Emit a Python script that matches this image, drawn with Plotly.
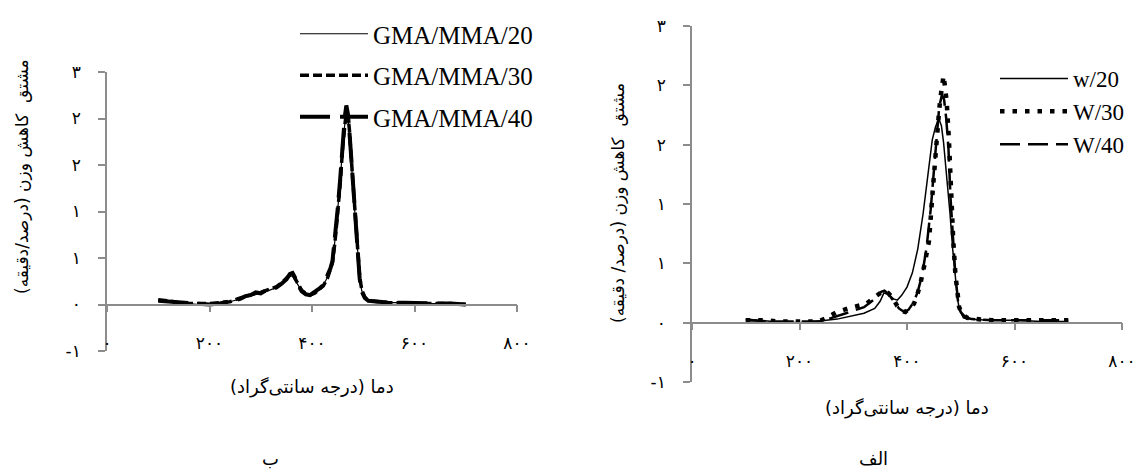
import plotly.graph_objects as go

# ---- Panel "ب": GMA/MMA copolymers, DTG vs temperature ----
t_gma = [100, 120, 140, 160, 180, 200, 220, 240, 260, 270, 280, 290, 300, 310, 320,
         330, 340, 350, 357, 362, 366, 370, 375, 380, 388, 396, 405, 414, 422, 430,
         436, 440, 445, 450, 455, 460, 464, 467, 470, 473, 476, 480, 485, 490, 493,
         497, 503, 510, 525, 550, 580, 610, 640, 670, 700]
gma_20 = [0.04, 0.03, 0.02, 0.01, 0.00, 0.01, 0.01, 0.03, 0.06, 0.08, 0.09, 0.11, 0.12, 0.14, 0.16,
          0.18, 0.22, 0.26, 0.30, 0.31, 0.27, 0.23, 0.19, 0.15, 0.11, 0.10, 0.13, 0.17, 0.21, 0.29,
          0.38, 0.46, 0.70, 1.00, 1.32, 1.72, 1.98, 2.10, 2.02, 1.85, 1.60, 1.26, 0.87, 0.48, 0.29,
          0.15, 0.07, 0.04, 0.03, 0.02, 0.02, 0.01, 0.01, 0.00, 0.00]
gma_30 = [0.05, 0.04, 0.02, 0.01, 0.01, 0.01, 0.02, 0.03, 0.07, 0.09, 0.10, 0.12, 0.13, 0.15, 0.17,
          0.19, 0.23, 0.28, 0.32, 0.33, 0.29, 0.24, 0.19, 0.15, 0.12, 0.10, 0.12, 0.16, 0.20, 0.28,
          0.37, 0.45, 0.68, 0.98, 1.30, 1.70, 1.97, 2.08, 2.04, 1.88, 1.62, 1.28, 0.88, 0.49, 0.30,
          0.16, 0.08, 0.04, 0.03, 0.02, 0.02, 0.01, 0.01, 0.01, 0.00]
gma_40 = [0.04, 0.03, 0.02, 0.01, 0.00, 0.00, 0.01, 0.03, 0.06, 0.09, 0.10, 0.13, 0.12, 0.15, 0.16,
          0.18, 0.22, 0.27, 0.33, 0.34, 0.30, 0.24, 0.19, 0.14, 0.11, 0.10, 0.13, 0.17, 0.21, 0.30,
          0.39, 0.47, 0.72, 1.02, 1.35, 1.75, 2.02, 2.14, 2.05, 1.86, 1.60, 1.25, 0.86, 0.47, 0.28,
          0.14, 0.07, 0.04, 0.03, 0.02, 0.02, 0.01, 0.01, 0.01, 0.00]

# ---- Panel "الف": W series, DTG vs temperature ----
t_w20 = [100, 150, 200, 230, 250, 270, 300, 320, 340, 350, 357, 365, 375, 382, 390,
         400, 410, 420, 430, 440, 447, 453, 459, 464, 468, 472, 476, 480, 485, 490,
         494, 498, 505, 515, 550, 600, 650, 700]
w_20 = [0.03, 0.01, 0.00, 0.01, 0.02, 0.03, 0.06, 0.08, 0.12, 0.18, 0.25, 0.24, 0.20, 0.19, 0.23,
        0.30, 0.42, 0.62, 0.92, 1.28, 1.54, 1.65, 1.72, 1.66, 1.52, 1.32, 1.14, 0.92, 0.62, 0.36,
        0.20, 0.10, 0.04, 0.03, 0.02, 0.02, 0.01, 0.01]

t_w30 = [100, 120, 140, 160, 180, 200, 220, 235, 250, 270, 290, 310, 325, 338, 350,
         357, 365, 373, 382, 390, 397, 405, 413, 420, 425, 433, 441, 448, 453, 457,
         460, 463, 466, 468, 471, 474, 478, 482, 486, 490, 494, 497, 503, 512, 530,
         560, 600, 650, 700]
w_30 = [0.02, 0.02, 0.02, 0.01, 0.01, 0.01, 0.01, 0.01, 0.04, 0.09, 0.12, 0.14, 0.16, 0.21, 0.25,
        0.27, 0.25, 0.21, 0.14, 0.10, 0.09, 0.13, 0.16, 0.25, 0.33, 0.50, 0.69, 1.12, 1.45, 1.69,
        1.80, 1.92, 2.02, 2.08, 1.98, 1.85, 1.54, 1.02, 0.70, 0.41, 0.22, 0.13, 0.07, 0.04, 0.03,
        0.02, 0.02, 0.02, 0.02]

t_w40 = [100, 150, 200, 240, 260, 280, 300, 320, 340, 352, 358, 366, 375, 385, 395,
         403, 412, 420, 428, 436, 444, 450, 455, 460, 465, 469, 473, 477, 481, 486,
         490, 495, 500, 508, 520, 560, 620, 700]
w_40 = [0.02, 0.01, 0.01, 0.01, 0.04, 0.07, 0.10, 0.13, 0.20, 0.26, 0.27, 0.24, 0.18, 0.12, 0.09,
        0.11, 0.17, 0.26, 0.40, 0.62, 0.95, 1.30, 1.60, 1.82, 1.92, 1.88, 1.72, 1.48, 1.05, 0.66,
        0.40, 0.18, 0.09, 0.05, 0.03, 0.02, 0.02, 0.02]

# ---- Axis tick labels (Persian digits) ----
y_tickvals = [-0.5, 0, 0.5, 1, 1.5, 2, 2.5]
y_ticktext = ["-۱", "۰", "۱", "۱", "۲", "۲", "۳"]
x_tickvals = [0, 200, 400, 600, 800]
x_ticktext = ["۰", "۲۰۰", "۴۰۰", "۶۰۰", "۸۰۰"]

y_title_b = "مشتق  کاهش وزن (درصد/دقیقه)"
y_title_a = "مشتق  کاهش وزن (درصد/ دقیقه)"
x_title = "دما (درجه سانتی‌گراد)"

W, H = 1140, 471
Y_RANGE = [-0.5, 2.5]
X_RANGE = [0, 800]
AXIS_GRAY = "#8c8c8c"
FA_FONT = "DejaVu Sans"
LEG_FONT = "Liberation Serif, Times New Roman, serif"


def px_x(p):
    return p / W


def px_y(p):
    return 1 - p / H


def zero_position(domain):
    # paper position of y = 0 inside a y-domain
    return domain[0] + (0 - Y_RANGE[0]) / (Y_RANGE[1] - Y_RANGE[0]) * (domain[1] - domain[0])


dom_x1 = [px_x(107), px_x(517)]
dom_y1 = [px_y(351), px_y(72)]
dom_x2 = [px_x(692), px_x(1122)]
dom_y2 = [px_y(382), px_y(26)]

fig = go.Figure()

black = "#000000"
fig.add_trace(go.Scatter(x=t_gma, y=gma_20, mode="lines", name="GMA/MMA/20",
                         line=dict(color=black, width=1.2), legendgroup="g20",
                         xaxis="x", yaxis="y", legend="legend"))
fig.add_trace(go.Scatter(x=t_gma, y=gma_30, mode="lines", name="GMA/MMA/30",
                         line=dict(color=black, width=3.5, dash="9px,4px"), legendgroup="g30",
                         xaxis="x", yaxis="y", legend="legend"))
fig.add_trace(go.Scatter(x=t_gma, y=gma_40, mode="lines", name="GMA/MMA/40",
                         line=dict(color=black, width=4, dash="30px,10px"), legendgroup="g40",
                         xaxis="x", yaxis="y", legend="legend"))

fig.add_trace(go.Scatter(x=t_w20, y=w_20, mode="lines", name="w/20",
                         line=dict(color=black, width=1.5),
                         xaxis="x2", yaxis="y2", legend="legend2"))
fig.add_trace(go.Scatter(x=t_w30, y=w_30, mode="lines", name="W/30",
                         line=dict(color=black, width=4.5, dash="4.5px,8px"),
                         xaxis="x2", yaxis="y2", legend="legend2"))
fig.add_trace(go.Scatter(x=t_w40, y=w_40, mode="lines", name="W/40",
                         line=dict(color=black, width=2.5, dash="20px,8px"),
                         xaxis="x2", yaxis="y2", legend="legend2"))

common_x = dict(range=X_RANGE, tickvals=x_tickvals, ticktext=x_ticktext,
                showline=True, linecolor=AXIS_GRAY, linewidth=1.5,
                ticks="outside", ticklen=7, tickwidth=1.5, tickcolor=AXIS_GRAY,
                showgrid=False, zeroline=False, ticklabelstandoff=16,
                tickfont=dict(family=FA_FONT, size=17, color=black),
                anchor="free", automargin=False)
common_y = dict(range=Y_RANGE, tickvals=y_tickvals, ticktext=y_ticktext,
                showline=True, linecolor=AXIS_GRAY, linewidth=1.5,
                ticks="outside", ticklen=7, tickwidth=1.5, tickcolor=AXIS_GRAY,
                showgrid=False, zeroline=False, ticklabelstandoff=14,
                tickfont=dict(family=FA_FONT, size=17, color=black),
                automargin=False)


def note(text, x, y, angle=0, size=18):
    return dict(text=text, x=px_x(x), y=px_y(y), xref="paper", yref="paper",
                xanchor="center", yanchor="middle", showarrow=False, textangle=angle,
                font=dict(family=FA_FONT, size=size, color=black))


fig.update_layout(
    width=W, height=H,
    margin=dict(l=0, r=0, t=0, b=0, autoexpand=False),
    paper_bgcolor="white", plot_bgcolor="white",
    xaxis=dict(domain=dom_x1, position=zero_position(dom_y1), **common_x),
    yaxis=dict(domain=dom_y1, anchor="x", **common_y),
    xaxis2=dict(domain=dom_x2, position=zero_position(dom_y2), **common_x),
    yaxis2=dict(domain=dom_y2, anchor="x2", **common_y),
    legend=dict(x=px_x(295), y=px_y(11), xanchor="left", yanchor="top",
                bgcolor="rgba(0,0,0,0)", itemwidth=68, tracegroupgap=6,
                font=dict(family=LEG_FONT, size=25, color=black)),
    legend2=dict(x=px_x(995), y=px_y(57), xanchor="left", yanchor="top",
                 bgcolor="rgba(0,0,0,0)", itemwidth=68, tracegroupgap=0,
                 font=dict(family=LEG_FONT, size=23, color=black)),
    annotations=[
        note(x_title, 312, 387),
        note(x_title, 907, 408),
        note(y_title_b, 22, 177, angle=-90, size=17),
        note(y_title_a, 618, 203, angle=-90, size=17),
        note("ب", 270, 458),
        note("الف", 873, 458),
    ],
)

fig.write_html("out.html")
